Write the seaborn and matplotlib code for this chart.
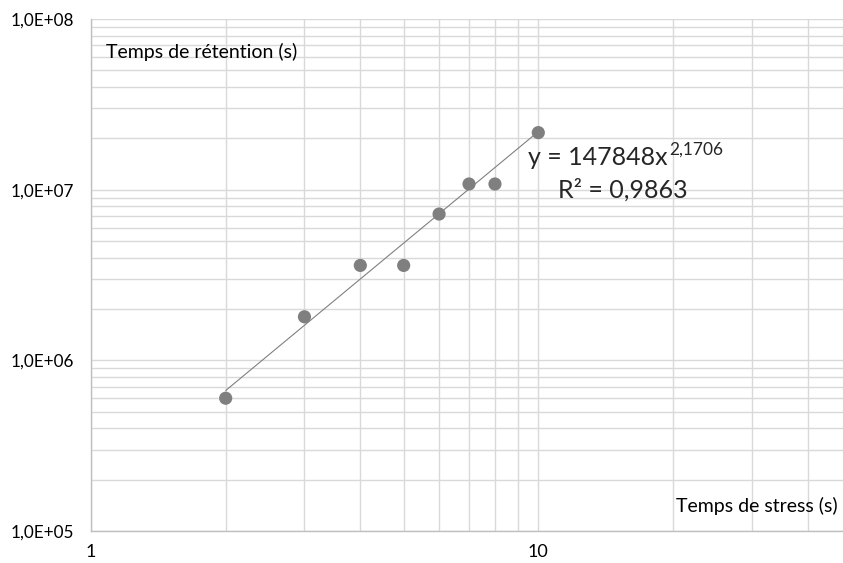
import numpy as np
import pandas as pd
import matplotlib
matplotlib.use("Agg")
import matplotlib.pyplot as plt
import seaborn as sns
from matplotlib.ticker import FuncFormatter, LogLocator, FixedLocator, NullFormatter

# Data
stress_time = [2, 3, 4, 5, 6, 7, 8, 10]
retention_time = [6.0e5, 1.8e6, 3.6e6, 3.6e6, 7.2e6, 1.08e7, 1.08e7, 2.16e7]

# Power trendline shown on the chart
coef_a = 147848
coef_b = 2.1706
r2_text = "0,9863"
trend_x = np.linspace(2, 10, 50)

df = pd.DataFrame({"stress": stress_time, "retention": retention_time})
trend = pd.DataFrame({"x": trend_x, "y": coef_a * trend_x ** coef_b})

sns.set_style("white")
plt.rcParams["font.family"] = ["Lato", "DejaVu Sans"]

fig = plt.figure(figsize=(8.43, 5.63), dpi=100)
ax = fig.add_axes([0.108, 0.0568, 0.892, 0.9094])

grid_c = "#d9d9d9"
ax.set_xscale("log")
ax.set_yscale("log")
ax.set_xlim(1, 48)
ax.set_ylim(1e5, 1e8)

ax.xaxis.set_major_locator(FixedLocator([1, 10]))
ax.xaxis.set_minor_locator(LogLocator(base=10, subs=np.arange(2, 10)))
ax.yaxis.set_major_locator(FixedLocator([1e5, 1e6, 1e7, 1e8]))
ax.yaxis.set_minor_locator(LogLocator(base=10, subs=np.arange(2, 10)))
ax.xaxis.set_minor_formatter(NullFormatter())
ax.yaxis.set_minor_formatter(NullFormatter())
ax.xaxis.set_major_formatter(FuncFormatter(lambda v, p: f"{v:g}"))
ax.yaxis.set_major_formatter(
    FuncFormatter(lambda v, p: "1,0E+{:02d}".format(int(round(np.log10(v))))))

ax.grid(True, which="both", color=grid_c, linewidth=1.0)
ax.set_axisbelow(True)

sns.lineplot(data=trend, x="x", y="y", ax=ax, color="#808080", linewidth=0.8)
sns.scatterplot(data=df, x="stress", y="retention", ax=ax, color="#7f7f7f",
                s=90, edgecolor="none", zorder=3)

for side in ["top", "right"]:
    ax.spines[side].set_visible(False)
for side in ["left", "bottom"]:
    ax.spines[side].set_color("#bfbfbf")
    ax.spines[side].set_linewidth(1.0)

ax.tick_params(axis="y", which="major", length=6, color="#bfbfbf",
               labelsize=12.3, labelcolor="#000000", pad=6)
ax.tick_params(axis="x", which="major", length=0, labelsize=13,
               labelcolor="#000000", pad=9)
ax.tick_params(which="minor", length=0)
ax.set_xlabel("")
ax.set_ylabel("")

# Axis titles placed inside the plot area
fig.text(106 / 843, 1 - 52 / 563, "Temps de rétention (s)", fontsize=14,
         va="center", ha="left", color="#000000")
fig.text(838 / 843, 1 - 506 / 563, "Temps de stress (s)", fontsize=14,
         va="center", ha="right", color="#000000")

# Trendline equation
eq = fig.text(528 / 843, 1 - 158 / 563, f"y = {coef_a}x", fontsize=18,
              va="center", ha="left")
fig.canvas.draw()
bb = eq.get_window_extent()
fig.text(bb.x1 / fig.bbox.width + 0.002, 1 - 150 / 563,
         f"{coef_b}".replace(".", ","), fontsize=12.5, va="center", ha="left")
fig.text(558 / 843, 1 - 190 / 563, f"R² = {r2_text}", fontsize=18,
         va="center", ha="left")

fig.savefig("out.png", dpi=100)
